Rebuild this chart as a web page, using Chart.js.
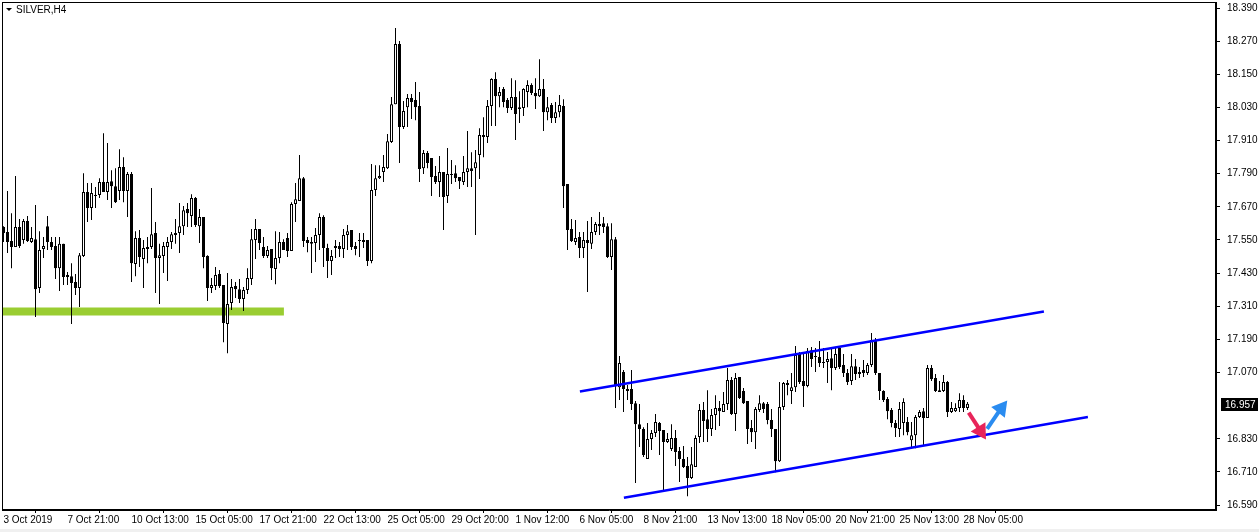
<!DOCTYPE html>
<html>
<head>
<meta charset="utf-8">
<script src="https://cdn.jsdelivr.net/npm/chart.js@4.4.0/dist/chart.umd.min.js"></script>
<style>
  html, body { margin: 0; padding: 0; background: #fff; }
  canvas { display: block; }
</style>
</head>
<body>
<canvas id="myChart" width="1259" height="532"></canvas>
<script>
const symbol = "SILVER,H4";

// H4 candles, one per bar index
const openPrices = [
  17.597, 17.579, 17.546, 17.525, 17.597, 17.550, 17.619, 17.543, 17.553, 17.376,
  17.517, 17.600, 17.543, 17.528, 17.448, 17.536, 17.416, 17.419, 17.398, 17.376,
  17.492, 17.724, 17.666, 17.709, 17.713, 17.760, 17.724, 17.763, 17.745, 17.727,
  17.814, 17.727, 17.789, 17.463, 17.557, 17.481, 17.517, 17.525, 17.575, 17.485,
  17.492, 17.525, 17.543, 17.568, 17.575, 17.600, 17.662, 17.637, 17.702, 17.600,
  17.633, 17.492, 17.376, 17.383, 17.427, 17.387, 17.246, 17.322, 17.383, 17.372,
  17.336, 17.369, 17.409, 17.550, 17.590, 17.525, 17.492, 17.517, 17.445, 17.485,
  17.543, 17.557, 17.510, 17.680, 17.691, 17.774, 17.550, 17.543, 17.539, 17.568,
  17.633, 17.521, 17.474, 17.521, 17.528, 17.517, 17.568, 17.586, 17.528, 17.550,
  17.550, 17.550, 17.474, 17.731, 17.774, 17.796, 17.810, 17.905, 18.042, 18.260,
  17.959, 18.031, 18.064, 18.057, 18.035, 17.810, 17.865, 17.847, 17.782, 17.760,
  17.796, 17.709, 17.785, 17.792, 17.778, 17.760, 17.796, 17.810, 17.810, 17.858,
  17.923, 17.923, 18.035, 18.133, 18.071, 18.097, 18.057, 18.028, 18.068, 18.024,
  18.028, 18.086, 18.111, 18.082, 18.071, 18.097, 18.013, 18.039, 17.992, 18.013,
  18.035, 17.753, 17.590, 17.543, 17.561, 17.521, 17.550, 17.536, 17.579, 17.608,
  17.611, 17.600, 17.488, 17.553, 17.017, 17.072, 17.010, 17.010, 16.959, 16.883,
  16.865, 16.757, 16.829, 16.851, 16.887, 16.862, 16.818, 16.793, 16.833, 16.786,
  16.757, 16.731, 16.688, 16.728, 16.836, 16.934, 16.901, 16.865, 16.916, 16.941,
  16.927, 16.956, 17.043, 16.920, 17.054, 17.003, 16.967, 16.869, 16.854, 16.934,
  16.959, 16.956, 16.898, 16.865, 16.749, 16.945, 17.032, 17.003, 17.017, 17.137,
  17.039, 17.021, 17.151, 17.130, 17.126, 17.104, 17.108, 17.122, 17.086, 17.159,
  17.097, 17.068, 17.039, 17.093, 17.065, 17.079, 17.068, 17.097, 17.188, 17.068,
  17.003, 16.974, 16.934, 16.887, 16.865, 16.887, 16.891, 16.825, 16.843, 16.909,
  16.930, 16.905, 17.086, 17.050, 17.006, 17.003, 17.036, 16.927, 16.930, 16.941,
  16.970, 16.941
];
const highPrices = [
  17.600, 17.727, 17.647, 17.782, 17.626, 17.626, 17.637, 17.597, 17.677, 17.582,
  17.561, 17.637, 17.561, 17.561, 17.561, 17.536, 17.434, 17.466, 17.427, 17.503,
  17.792, 17.756, 17.756, 17.742, 17.774, 17.937, 17.901, 17.803, 17.810, 17.879,
  17.850, 17.796, 17.796, 17.582, 17.586, 17.550, 17.561, 17.738, 17.615, 17.536,
  17.543, 17.561, 17.579, 17.626, 17.684, 17.673, 17.684, 17.716, 17.706, 17.662,
  17.633, 17.495, 17.412, 17.452, 17.441, 17.387, 17.430, 17.409, 17.398, 17.409,
  17.380, 17.448, 17.590, 17.626, 17.590, 17.561, 17.528, 17.517, 17.582, 17.579,
  17.553, 17.575, 17.687, 17.756, 17.858, 17.778, 17.561, 17.561, 17.593, 17.647,
  17.640, 17.536, 17.514, 17.550, 17.543, 17.590, 17.604, 17.586, 17.543, 17.575,
  17.575, 17.550, 17.825, 17.821, 17.821, 17.858, 17.934, 18.068, 18.318, 18.271,
  18.053, 18.079, 18.079, 18.122, 18.086, 17.876, 17.872, 17.847, 17.818, 17.854,
  17.796, 17.883, 17.840, 17.821, 17.778, 17.854, 17.945, 17.868, 17.876, 17.955,
  17.995, 18.057, 18.136, 18.158, 18.104, 18.104, 18.064, 18.136, 18.129, 18.089,
  18.100, 18.129, 18.118, 18.136, 18.205, 18.133, 18.068, 18.046, 18.050, 18.075,
  18.060, 17.753, 17.626, 17.622, 17.579, 17.579, 17.619, 17.633, 17.615, 17.651,
  17.633, 17.611, 17.611, 17.561, 17.130, 17.079, 17.025, 17.079, 16.967, 16.956,
  16.872, 16.887, 16.862, 16.920, 16.891, 16.862, 16.851, 16.883, 16.862, 16.800,
  16.804, 16.764, 16.800, 16.843, 16.956, 16.963, 17.006, 16.938, 16.988, 16.967,
  16.999, 17.086, 17.054, 17.068, 17.054, 17.014, 16.967, 16.898, 16.945, 16.988,
  16.963, 16.963, 16.938, 16.865, 17.036, 17.036, 17.043, 17.068, 17.166, 17.144,
  17.137, 17.159, 17.162, 17.159, 17.184, 17.159, 17.144, 17.159, 17.162, 17.166,
  17.137, 17.083, 17.137, 17.119, 17.090, 17.115, 17.104, 17.213, 17.195, 17.068,
  17.006, 16.981, 16.941, 16.898, 16.963, 16.977, 16.909, 16.891, 16.916, 16.934,
  16.941, 17.097, 17.097, 17.065, 17.039, 17.061, 17.039, 16.963, 16.959, 16.995,
  16.988, 16.963
];
const lowPrices = [
  17.543, 17.503, 17.448, 17.525, 17.521, 17.536, 17.543, 17.539, 17.271, 17.358,
  17.485, 17.514, 17.514, 17.409, 17.365, 17.387, 17.387, 17.246, 17.351, 17.307,
  17.488, 17.615, 17.622, 17.666, 17.702, 17.724, 17.695, 17.666, 17.684, 17.695,
  17.687, 17.633, 17.398, 17.419, 17.452, 17.376, 17.466, 17.517, 17.358, 17.318,
  17.430, 17.401, 17.517, 17.536, 17.503, 17.568, 17.597, 17.597, 17.597, 17.539,
  17.448, 17.329, 17.358, 17.369, 17.376, 17.180, 17.140, 17.296, 17.340, 17.322,
  17.293, 17.354, 17.387, 17.481, 17.514, 17.485, 17.485, 17.405, 17.390, 17.466,
  17.514, 17.488, 17.510, 17.615, 17.691, 17.525, 17.506, 17.430, 17.470, 17.514,
  17.452, 17.412, 17.423, 17.485, 17.488, 17.485, 17.514, 17.514, 17.495, 17.488,
  17.521, 17.456, 17.466, 17.709, 17.771, 17.760, 17.807, 17.901, 18.042, 17.829,
  17.952, 17.959, 17.988, 17.984, 17.760, 17.789, 17.810, 17.709, 17.753, 17.706,
  17.586, 17.684, 17.753, 17.760, 17.735, 17.749, 17.742, 17.742, 17.568, 17.771,
  17.850, 17.901, 17.963, 17.963, 18.031, 18.031, 18.010, 18.021, 17.912, 17.974,
  17.999, 18.031, 18.075, 18.024, 18.068, 17.945, 17.984, 17.974, 17.974, 17.995,
  17.666, 17.514, 17.543, 17.532, 17.485, 17.485, 17.362, 17.517, 17.568, 17.568,
  17.575, 17.485, 17.441, 16.941, 16.970, 16.927, 16.970, 16.934, 16.670, 16.800,
  16.764, 16.757, 16.789, 16.836, 16.771, 16.644, 16.815, 16.786, 16.731, 16.673,
  16.724, 16.622, 16.684, 16.728, 16.815, 16.818, 16.818, 16.840, 16.862, 16.876,
  16.927, 16.934, 16.916, 16.858, 16.974, 16.956, 16.811, 16.818, 16.793, 16.927,
  16.923, 16.883, 16.836, 16.709, 16.746, 16.934, 16.988, 16.956, 16.999, 17.028,
  16.945, 17.017, 17.090, 17.072, 17.090, 17.086, 17.032, 17.006, 17.079, 17.083,
  17.054, 17.025, 17.025, 17.043, 17.050, 17.054, 17.061, 17.090, 17.061, 16.970,
  16.963, 16.901, 16.872, 16.836, 16.836, 16.843, 16.843, 16.796, 16.796, 16.905,
  16.804, 16.905, 17.039, 16.999, 16.999, 16.999, 16.909, 16.923, 16.927, 16.927,
  16.927, 16.934
];
const closePrices = [
  17.575, 17.543, 17.525, 17.597, 17.528, 17.619, 17.546, 17.557, 17.372, 17.514,
  17.528, 17.543, 17.525, 17.448, 17.536, 17.416, 17.423, 17.394, 17.376, 17.495,
  17.724, 17.666, 17.720, 17.713, 17.760, 17.724, 17.760, 17.745, 17.687, 17.814,
  17.727, 17.789, 17.466, 17.557, 17.488, 17.521, 17.525, 17.571, 17.485, 17.495,
  17.528, 17.543, 17.571, 17.575, 17.600, 17.658, 17.647, 17.702, 17.604, 17.633,
  17.488, 17.376, 17.387, 17.423, 17.383, 17.249, 17.318, 17.380, 17.372, 17.336,
  17.369, 17.412, 17.553, 17.590, 17.539, 17.492, 17.514, 17.448, 17.485, 17.543,
  17.514, 17.510, 17.680, 17.698, 17.774, 17.546, 17.539, 17.536, 17.568, 17.633,
  17.521, 17.474, 17.492, 17.528, 17.517, 17.568, 17.582, 17.525, 17.517, 17.546,
  17.543, 17.474, 17.731, 17.774, 17.782, 17.814, 17.908, 18.042, 18.260, 17.959,
  18.017, 18.064, 18.050, 18.031, 17.807, 17.865, 17.829, 17.778, 17.760, 17.796,
  17.706, 17.789, 17.789, 17.774, 17.763, 17.796, 17.810, 17.800, 17.832, 17.930,
  17.930, 18.035, 18.133, 18.071, 18.086, 18.050, 18.028, 18.068, 18.006, 18.031,
  18.097, 18.111, 18.082, 18.071, 18.097, 18.013, 18.031, 17.992, 18.013, 18.039,
  17.745, 17.586, 17.546, 17.557, 17.521, 17.550, 17.539, 17.579, 17.608, 17.600,
  17.597, 17.488, 17.553, 17.025, 17.104, 17.010, 17.003, 16.956, 16.883, 16.865,
  16.771, 16.829, 16.851, 16.891, 16.858, 16.818, 16.829, 16.833, 16.782, 16.757,
  16.728, 16.688, 16.738, 16.833, 16.934, 16.894, 16.865, 16.916, 16.941, 16.930,
  16.956, 17.043, 16.920, 17.050, 16.978, 16.959, 16.865, 16.854, 16.938, 16.959,
  16.938, 16.898, 16.865, 16.749, 16.945, 17.032, 17.025, 17.017, 17.133, 17.036,
  17.021, 17.148, 17.119, 17.126, 17.104, 17.108, 17.119, 17.086, 17.137, 17.090,
  17.068, 17.036, 17.093, 17.065, 17.072, 17.068, 17.097, 17.188, 17.068, 17.003,
  16.970, 16.930, 16.887, 16.869, 16.938, 16.963, 16.854, 16.843, 16.909, 16.927,
  16.905, 17.086, 17.046, 17.003, 16.999, 17.036, 16.927, 16.941, 16.941, 16.970,
  16.941, 16.957
];

// time axis labels (bar index -> text)
const timeTickBars = [0, 16, 32, 48, 64, 80, 96, 112, 128, 144, 160, 176, 192, 208, 224, 240];
const timeTickLabels = [
  "3 Oct 2019", "7 Oct 21:00", "10 Oct 13:00", "15 Oct 05:00", "17 Oct 21:00",
  "22 Oct 13:00", "25 Oct 05:00", "29 Oct 20:00", "1 Nov 12:00", "6 Nov 05:00",
  "8 Nov 21:00", "13 Nov 13:00", "18 Nov 05:00", "20 Nov 21:00", "25 Nov 13:00",
  "28 Nov 05:00"
];
const priceTicks = [16.59, 16.71, 16.83, 17.07, 17.19, 17.31, 17.43, 17.55, 17.67, 17.79, 17.91, 18.03, 18.15, 18.27, 18.39];

// drawn objects: (bar index, price)
const supportZone = [{ x: -0.125, y: 17.291 }, { x: 70.1, y: 17.291 }];
const channelTop = [{ x: 144.1, y: 17.001 }, { x: 260.1, y: 17.291 }];
const channelBottom = [{ x: 155.1, y: 16.616 }, { x: 271.1, y: 16.909 }];
const arrowDown = [{ x: 241.3, y: 16.925 }, { x: 244.3, y: 16.858 }];
const arrowUp = [{ x: 245.9, y: 16.866 }, { x: 249.4, y: 16.940 }];

const bodies = openPrices.map((o, i) => {
  let c = closePrices[i];
  if (Math.abs(o - c) < 0.003) c = o - 0.003;
  return { x: i, y: [o, c] };
});
const wicks = lowPrices.map((l, i) => ({ x: i, y: [l, highPrices[i]] }));
const bodyColors = openPrices.map((o, i) => closePrices[i] > o ? "#ffffff" : "#000000");

Chart.defaults.font.family = "'Liberation Sans', Arial, sans-serif";
Chart.defaults.font.size = 10;
Chart.defaults.color = "#000";

const decor = {
  id: "decor",
  afterDraw(chart) {
    const { ctx, chartArea: a, scales } = chart;
    ctx.save();
    ctx.strokeStyle = "#000";
    ctx.lineWidth = 1;
    ctx.strokeRect(a.left + 0.5, a.top + 0.5, a.right - a.left - 1, a.bottom - a.top - 1);

    // current price tag
    const last = closePrices[closePrices.length - 1];
    const py = Math.round(scales.y.getPixelForValue(last));
    ctx.fillStyle = "#000";
    ctx.fillRect(a.right + 5, py - 6, 37, 13);
    ctx.fillStyle = "#fff";
    ctx.textBaseline = "middle";
    ctx.font = "10px 'Liberation Sans', Arial";
    ctx.fillText(last.toFixed(3), a.right + 9, py + 1);

    // symbol caption
    ctx.fillStyle = "#000";
    ctx.beginPath();
    ctx.moveTo(a.left + 4, a.top + 6);
    ctx.lineTo(a.left + 10, a.top + 6);
    ctx.lineTo(a.left + 7, a.top + 9);
    ctx.closePath();
    ctx.fill();
    ctx.fillText(symbol, a.left + 14, a.top + 8);

    ctx.fillStyle = "#f0f0f0";
    ctx.fillRect(0, chart.height - 3, chart.width, 3);
    ctx.restore();
  }
};

const ctx = document.getElementById("myChart").getContext("2d");
window.grafica = new Chart(ctx, {
  type: "bar",
  data: {
    datasets: [
      {
        type: "line", label: "arrow down", data: arrowDown, order: 0,
        borderColor: "#e8245a", borderWidth: 4,
        pointRadius: [0, 6], pointStyle: "triangle", pointRotation: 148,
        pointBackgroundColor: "#e8245a", pointBorderColor: "#e8245a"
      },
      {
        type: "line", label: "arrow up", data: arrowUp, order: 0,
        borderColor: "#2a8cf0", borderWidth: 4,
        pointRadius: [0, 6], pointStyle: "triangle", pointRotation: 38,
        pointBackgroundColor: "#2a8cf0", pointBorderColor: "#2a8cf0"
      },
      {
        type: "line", label: "channel top", data: channelTop, order: 0,
        borderColor: "#0000ff", borderWidth: 2.5, pointRadius: 0
      },
      {
        type: "line", label: "channel bottom", data: channelBottom, order: 0,
        borderColor: "#0000ff", borderWidth: 2.5, pointRadius: 0
      },
      {
        label: "body", data: bodies, order: 1,
        backgroundColor: bodyColors, borderColor: "#000", borderWidth: 1,
        borderSkipped: false, barThickness: 3, inflateAmount: 0, grouped: false
      },
      {
        label: "wick", data: wicks, order: 2,
        backgroundColor: "#000", borderWidth: 0,
        barThickness: 1, inflateAmount: 0, grouped: false
      },
      {
        type: "line", label: "support", data: supportZone, order: 5,
        borderColor: "#9acd32", borderWidth: 8, pointRadius: 0
      }
    ]
  },
  options: {
    responsive: false,
    animation: false,
    devicePixelRatio: 1,
    layout: { autoPadding: false, padding: { left: 2, top: 2, right: 0, bottom: 0 } },
    plugins: { legend: { display: false }, tooltip: { enabled: false } },
    scales: {
      x: {
        type: "linear",
        min: -0.375,
        max: 303.125,
        offset: false,
        afterBuildTicks: (scale) => { scale.ticks = timeTickBars.map(v => ({ value: v })); },
        afterFit: (scale) => { scale.height = 22; scale.paddingLeft = 0; scale.paddingRight = 0; },
        ticks: {
          autoSkip: false, maxRotation: 0, align: "start", padding: 1,
          callback: (v) => timeTickLabels[timeTickBars.indexOf(v)]
        },
        grid: { drawOnChartArea: false, tickLength: 3, color: "#000" },
        border: { display: true, color: "#000" }
      },
      y: {
        position: "right",
        min: 16.572,
        max: 18.412,
        afterBuildTicks: (scale) => { scale.ticks = priceTicks.map(v => ({ value: v })); },
        afterFit: (scale) => { scale.width = 43; scale.paddingTop = 0; scale.paddingBottom = 0; },
        ticks: { padding: 7, callback: (v) => v.toFixed(3) },
        grid: { drawOnChartArea: false, tickLength: 4, color: "#000" },
        border: { display: true, color: "#000" }
      }
    }
  },
  plugins: [decor]
});
</script>
</body>
</html>
